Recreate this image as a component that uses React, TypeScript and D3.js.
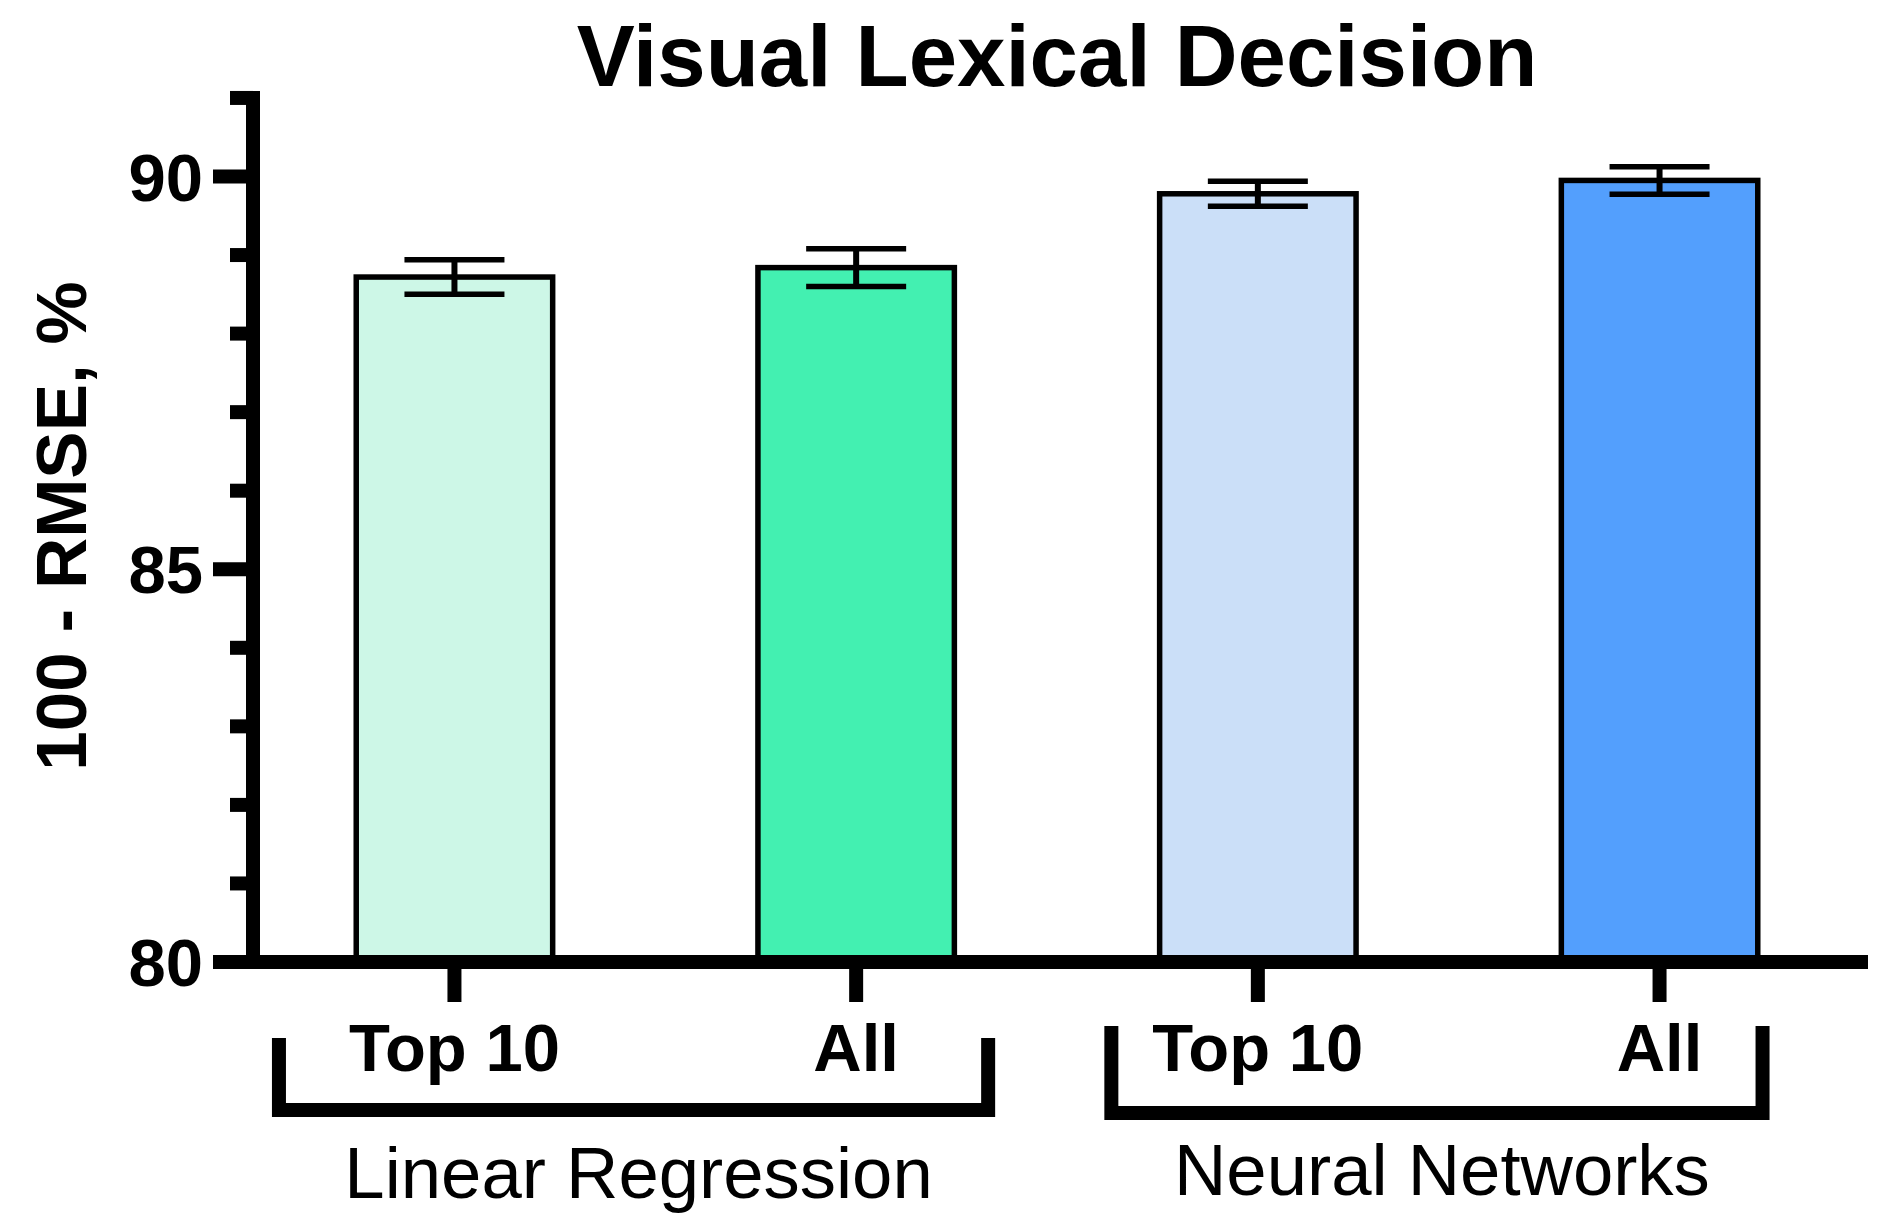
import React from "react";
import * as d3 from "d3";

const barIds = ["lr-top10", "lr-all", "nn-top10", "nn-all"];
const barLabels = ["Top 10", "All", "Top 10", "All"];
const means = [88.72, 88.84, 89.78, 89.95];
const errors = [0.22, 0.24, 0.16, 0.175];
const barColors = ["#CDF7E7", "#43F0B1", "#CBDFF8", "#539FFD"];
const groupNames = ["Linear Regression", "Neural Networks"];
const majorTicks = [80, 85, 90];
const minorTicks = [81, 82, 83, 84, 86, 87, 88, 89, 91];

const FONT = "'Liberation Sans', Arial, Helvetica, sans-serif";

export default function App() {
  const W = 1888, H = 1230;
  const axisX = 253;
  const y = d3.scaleLinear().domain([80, 90]).range([962, 176.5]);
  const x = d3.scaleBand<string>().domain(barIds).range([253, 1861]).paddingInner(0.511).paddingOuter(0.257);
  const bw = x.bandwidth();
  const cx = (i: number) => (x(barIds[i]) as number) + bw / 2;
  const y0 = y(80);
  const AW = 14;
  const axisTop = y(91) - AW / 2;

  const brackets = [
    { left: cx(0) - 175.5, right: cx(1) + 132, top: 1038, bottom: 1110, labelY: 1198 },
    { left: cx(2) - 146.5, right: cx(3) + 103, top: 1026, bottom: 1113, labelY: 1195 },
  ];

  return (
    <svg width={W} height={H} style={{ position: "absolute", left: 0, top: 0, background: "#fff" }} fontFamily={FONT}>
      <rect x={0} y={0} width={W} height={H} fill="#fff" />
      <text x={1057} y={86} textAnchor="middle" fontSize={87} fontWeight="bold">Visual Lexical Decision</text>

      {means.map((m, i) => (
        <rect key={"b" + i} x={x(barIds[i])} y={y(m)} width={bw} height={y0 - y(m)}
          fill={barColors[i]} stroke="#000" strokeWidth={5.5} />
      ))}
      {means.map((m, i) => {
        const c = cx(i);
        const hi = y(m + errors[i]), lo = y(m - errors[i]);
        return (
          <g key={"e" + i} stroke="#000" strokeWidth={5.5}>
            <line x1={c} x2={c} y1={hi} y2={lo} strokeWidth={6} />
            <line x1={c - 50} x2={c + 50} y1={hi} y2={hi} />
            <line x1={c - 50} x2={c + 50} y1={lo} y2={lo} />
          </g>
        );
      })}

      <line x1={axisX} x2={axisX} y1={axisTop} y2={y0 + AW / 2} stroke="#000" strokeWidth={AW} />
      {minorTicks.map((t) => (
        <line key={"mt" + t} x1={230} x2={axisX} y1={y(t)} y2={y(t)} stroke="#000" strokeWidth={AW} />
      ))}
      {majorTicks.map((t) => (
        <g key={"Mt" + t}>
          <line x1={213} x2={axisX} y1={y(t)} y2={y(t)} stroke="#000" strokeWidth={AW} />
          <text x={203} y={y(t) + 24} textAnchor="end" fontSize={67} fontWeight="bold">{t}</text>
        </g>
      ))}
      <text transform={`translate(86,526) rotate(-90)`} textAnchor="middle" fontSize={71} fontWeight="bold">100 - RMSE, %</text>

      <line x1={213} x2={1868} y1={y0} y2={y0} stroke="#000" strokeWidth={AW} />
      {barIds.map((id, i) => (
        <g key={"xt" + id}>
          <line x1={cx(i)} x2={cx(i)} y1={y0 + AW / 2} y2={1002} stroke="#000" strokeWidth={AW} />
          <text x={cx(i)} y={1071} textAnchor="middle" fontSize={67} fontWeight="bold">{barLabels[i]}</text>
        </g>
      ))}

      {groupNames.map((g, gi) => {
        const b = brackets[gi];
        return (
          <g key={"g" + gi}>
            <path d={`M${b.left},${b.top}V${b.bottom}H${b.right}V${b.top}`} fill="none" stroke="#000"
              strokeWidth={AW} strokeLinejoin="miter" />
            <text x={(b.left + b.right) / 2 + 5} y={b.labelY} textAnchor="middle" fontSize={72.5}>{g}</text>
          </g>
        );
      })}
    </svg>
  );
}
